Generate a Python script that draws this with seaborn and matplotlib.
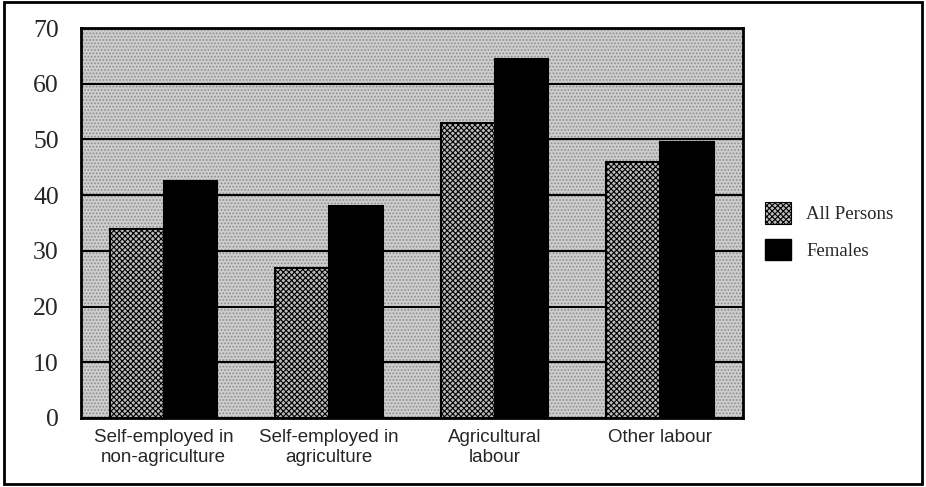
import matplotlib
matplotlib.use("Agg")
import matplotlib.pyplot as plt
import seaborn as sns
import pandas as pd
from matplotlib.patches import Rectangle, Patch

categories = ["Self-employed in\nnon-agriculture", "Self-employed in\nagriculture",
              "Agricultural\nlabour", "Other labour"]
all_persons = [34, 27, 53, 46]
females = [42.5, 38, 64.5, 49.5]
series = ["All Persons", "Females"]
yticks = [0, 10, 20, 30, 40, 50, 60, 70]

df = pd.DataFrame({
    "category": categories * 2,
    "value": all_persons + females,
    "series": [series[0]] * 4 + [series[1]] * 4,
})

sns.set_style("white")
plt.rcParams["hatch.linewidth"] = 0.8

fig = plt.figure(figsize=(9.26, 4.87), dpi=100)
ax = fig.add_axes([0.0875, 0.1417, 0.7145, 0.8008])
ax.set_facecolor("#cdcdcd")
ax.patch.set_hatch(".....")
ax.patch.set_edgecolor("#8c8c8c")

sns.barplot(data=df, x="category", y="value", hue="series", hue_order=series,
            palette={"All Persons": "#bcbcbc", "Females": "#000000"},
            width=0.65, gap=0, saturation=1, edgecolor="black", linewidth=1.5,
            ax=ax, legend=False, zorder=3)
for bar in ax.patches[:4]:
    bar.set_hatch("xxxxxx")
    bar.set_edgecolor("black")

ax.set_ylim(0, 70)
ax.set_xlim(-0.5, 3.5)
ax.set_yticks(yticks)
ax.set_yticklabels([str(t) for t in yticks], family="Liberation Serif", fontsize=18.5)
ax.tick_params(axis="y", length=0, pad=16)
ax.tick_params(axis="x", length=0, pad=8)
for lab in ax.get_xticklabels():
    lab.set_family("Liberation Sans")
    lab.set_fontsize(13.5)
ax.set_xlabel("")
ax.set_ylabel("")
ax.yaxis.grid(True, color="black", linewidth=1.5, zorder=1)
ax.set_axisbelow(True)
for s in ax.spines.values():
    s.set_visible(True)
    s.set_color("black")
    s.set_linewidth(2)

handles = [Patch(facecolor="#bcbcbc", edgecolor="black", hatch="xxxxxx", linewidth=0.8),
           Patch(facecolor="black", edgecolor="black")]
fig.legend(handles, series, loc="upper left", bbox_to_anchor=(0.808, 0.62),
           frameon=False, prop={"family": "Liberation Serif", "size": 13.5},
           handlelength=1.4, handleheight=1.4, labelspacing=0.8, handletextpad=0.8)

fig.patches.append(Rectangle((0.004, 0.006), 0.992, 0.99, transform=fig.transFigure,
                             fill=False, edgecolor="black", linewidth=2))

fig.savefig("out.png", dpi=100)
